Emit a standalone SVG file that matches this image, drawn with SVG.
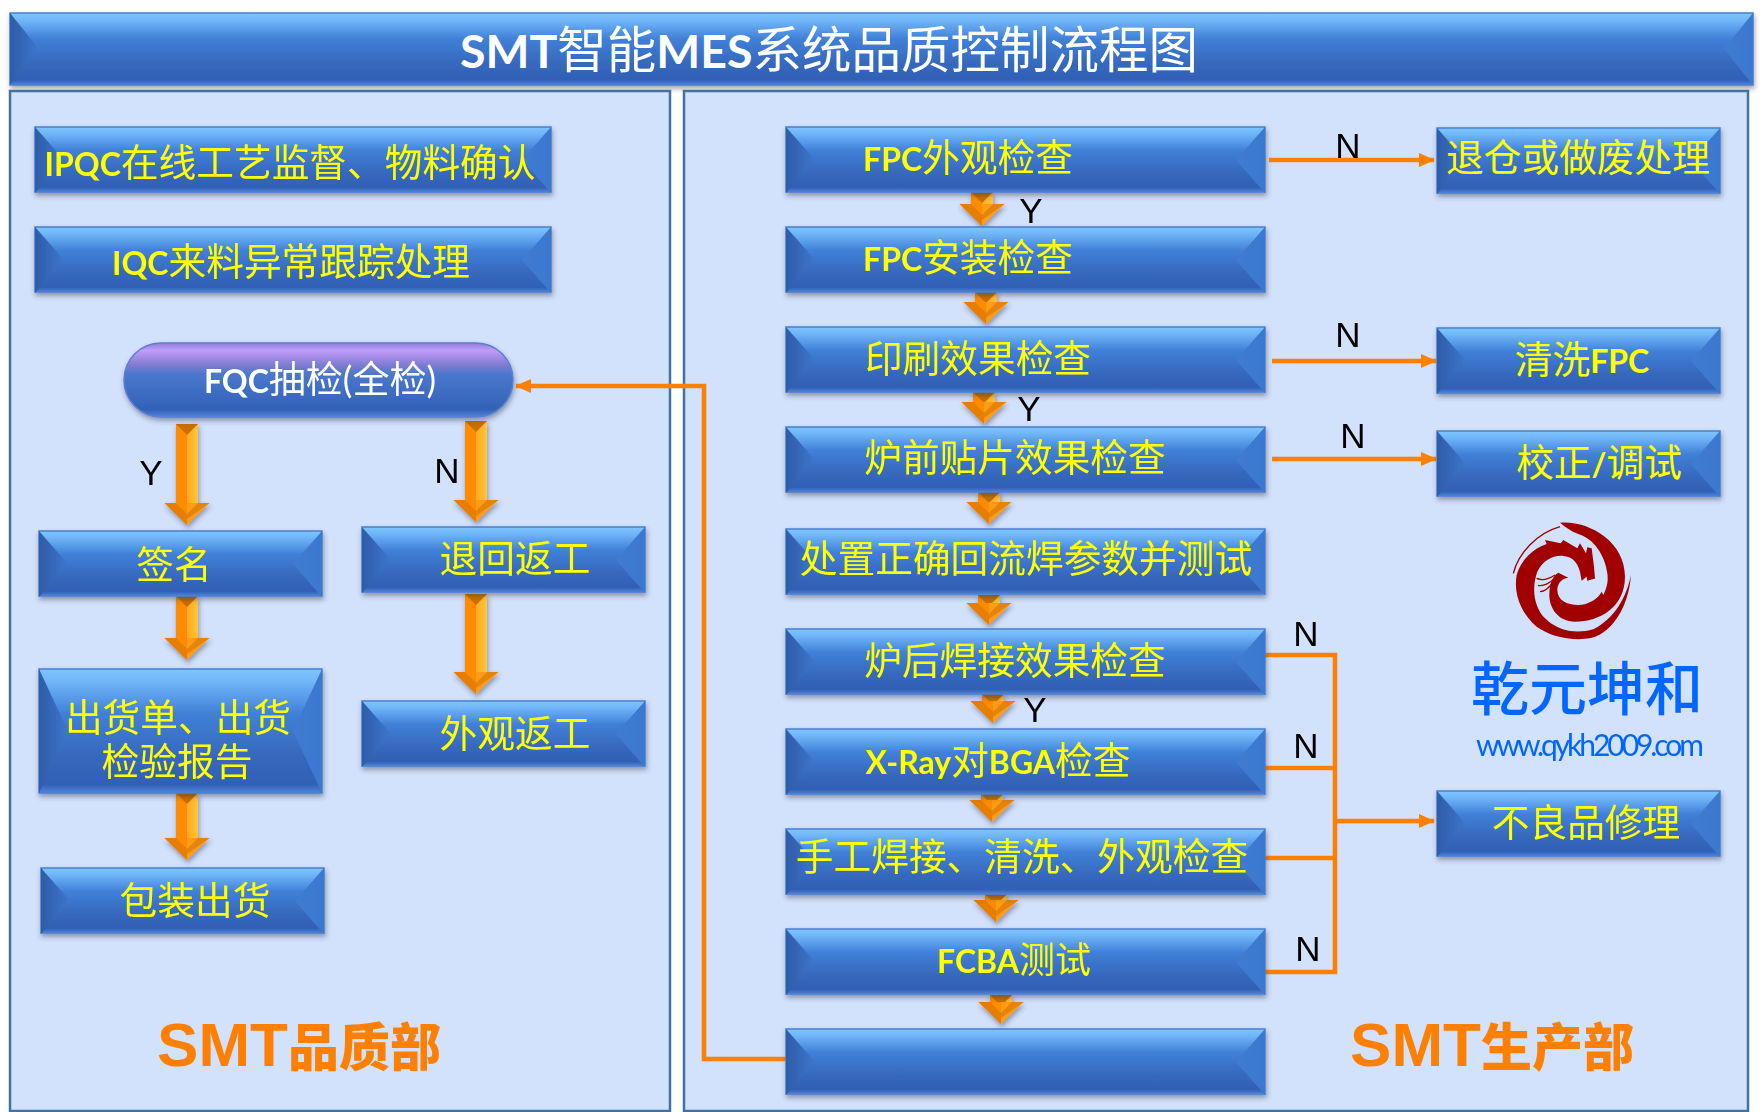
<svg xmlns="http://www.w3.org/2000/svg" width="1763" height="1112" viewBox="0 0 1763 1112">
<style>
text{font-family:"Noto Sans CJK SC","Noto Sans",sans-serif}
.t{fill:#ffff00;font-size:37.7px;text-anchor:middle}
.l{font-family:Lato,"Liberation Sans",sans-serif;font-weight:700;font-size:32px}
.w{fill:#fff}
.k{font-family:"Liberation Sans",sans-serif;font-size:35px;fill:#000;text-anchor:middle}
.p{fill:#d2e1fc;stroke:#44729f;stroke-width:2.5}
.b{fill:url(#gb);stroke:#4a80d0;stroke-width:1.5}
.s{filter:url(#sh)}
.c{fill:none;stroke:#ff8000;stroke-width:4.6}
.al{fill:#ff8c00}
.ar{fill:url(#gr)}
.big{fill:#ff8000;font-weight:900;font-size:51px;text-anchor:middle}
.lat{font-family:"Liberation Sans",sans-serif;font-weight:700;font-size:62px}
.d{fill:#a00000}
</style>
<defs>
<linearGradient id="gb" x1="0" y1="0" x2="0" y2="1"><stop offset="0" stop-color="#7cc6ff"/><stop offset=".1" stop-color="#70b6f8"/><stop offset=".36" stop-color="#4080d8"/><stop offset=".7" stop-color="#3669bd"/><stop offset=".93" stop-color="#3060b6"/><stop offset="1" stop-color="#4f85d8"/></linearGradient>
<linearGradient id="gp" x1="0" y1="0" x2="0" y2="1"><stop offset="0" stop-color="#8f7fd8"/><stop offset=".1" stop-color="#c29cfa"/><stop offset=".3" stop-color="#7d7bd0"/><stop offset=".42" stop-color="#4a78cc"/><stop offset=".9" stop-color="#3262b8"/><stop offset="1" stop-color="#4f85d8"/></linearGradient>
<linearGradient id="gl" x1="0" y1="0" x2="1" y2="0"><stop offset="0" stop-color="#2e5ca8"/><stop offset="1" stop-color="#3d76cc"/></linearGradient>
<linearGradient id="gs" x1="0" y1="0" x2="1" y2="0"><stop offset="0" stop-color="#417bd0"/><stop offset="1" stop-color="#3a78d0"/></linearGradient>
<linearGradient id="gr" x1="0" y1="0" x2="1" y2="0"><stop offset="0" stop-color="#ffa820"/><stop offset="1" stop-color="#ffc63c"/></linearGradient>
<filter id="sh" x="-5%" y="-10%" width="110%" height="130%"><feDropShadow dx="1" dy="3" stdDeviation="2.5" flood-color="#334" flood-opacity=".45"/></filter>
<marker id="m" markerUnits="userSpaceOnUse" markerWidth="16" markerHeight="16" refX="15" refY="8" orient="auto"><path d="M0,1L16,8L0,15Z" fill="#ff8000"/></marker>
<polygon id="bl" points="0,0 29,33 0,66" fill="url(#gl)"/>
<polygon id="br" points="0,0 -29,33 0,66" fill="url(#gs)"/>
<g id="cap"><polygon points="-11,0 11,0 0,11" fill="#c96f00"/></g>
<g id="hd"><polygon points="-22.5,-22 0,0 0,-22" fill="#ff8c00"/><polygon points="22.5,-22 0,0 0,-22" fill="#ff9c16"/><polygon points="-22.5,-22 -11,-22 0,-11 0,0" fill="#e07a00" opacity=".75"/><polygon points="22.5,-22 11,-22 0,-11 0,-6" fill="#d87a08" opacity=".7"/></g>
</defs>
<rect width="1763" height="1112" fill="#fff"/>
<g id="title" class="s"><rect class="b" x="10" y="13" width="1743" height="72"/><polygon points="10,13 39,49 10,85" fill="url(#gl)"/><polygon points="1753,13 1724,49 1753,85" fill="url(#gs)"/></g>
<text x="829" y="68" class="t w" style="font-size:49.5px"><tspan class="l" style="font-size:46.5px">SMT</tspan>智能<tspan class="l" style="font-size:46.5px">MES</tspan>系统品质控制流程图</text>
<rect id="panel-left" class="p" x="10" y="91" width="660" height="1020"/>
<rect id="panel-right" class="p" x="684" y="91" width="1064" height="1020"/>

<g id="connectors">
<path class="c" d="M1269,160H1434" marker-end="url(#m)"/>
<path class="c" d="M1272,361H1436" marker-end="url(#m)"/>
<path class="c" d="M1272,459H1436" marker-end="url(#m)"/>
<path class="c" d="M1265,655H1335V972H1265M1265,768H1335M1265,858H1335"/>
<path class="c" d="M1335,821H1434" marker-end="url(#m)"/>
<path class="c" d="M786,1059H704V386H516" marker-end="url(#m)"/>
<g class="s">
<g><rect class="al" x="176" y="424" width="11" height="80"/><rect class="ar" x="187" y="424" width="11" height="80"/><use href="#cap" x="187" y="424"/><use href="#hd" x="187" y="525"/></g>
<g><rect class="al" x="465" y="421" width="11" height="80"/><rect class="ar" x="476" y="421" width="11" height="80"/><use href="#cap" x="476" y="421"/><use href="#hd" x="476" y="522"/></g>
<g><rect class="al" x="176" y="596" width="11" height="44"/><rect class="ar" x="187" y="596" width="11" height="44"/><use href="#cap" x="187" y="596"/><use href="#hd" x="187" y="660"/></g>
<g><rect class="al" x="465" y="594" width="11" height="80"/><rect class="ar" x="476" y="594" width="11" height="80"/><use href="#cap" x="476" y="594"/><use href="#hd" x="476" y="694"/></g>
<g><rect class="al" x="176" y="793" width="11" height="46"/><rect class="ar" x="187" y="793" width="11" height="46"/><use href="#cap" x="187" y="793"/><use href="#hd" x="187" y="860"/></g>
<g><rect class="al" x="971" y="192" width="11" height="15"/><rect class="ar" x="982" y="192" width="11" height="15"/><use href="#cap" x="982" y="192"/><use href="#hd" x="982" y="226"/></g>
<g><rect class="al" x="975" y="292" width="11" height="13"/><rect class="ar" x="986" y="292" width="11" height="13"/><use href="#cap" x="986" y="292"/><use href="#hd" x="986" y="324"/></g>
<g><rect class="al" x="973" y="392" width="11" height="13"/><rect class="ar" x="984" y="392" width="11" height="13"/><use href="#cap" x="984" y="392"/><use href="#hd" x="984" y="424"/></g>
<g><rect class="al" x="978" y="492" width="11" height="13"/><rect class="ar" x="989" y="492" width="11" height="13"/><use href="#cap" x="989" y="492"/><use href="#hd" x="989" y="524"/></g>
<g><rect class="al" x="978" y="595" width="11" height="11"/><rect class="ar" x="989" y="595" width="11" height="11"/><use href="#cap" x="989" y="595"/><use href="#hd" x="989" y="625"/></g>
<g><rect class="al" x="982" y="694" width="11" height="10"/><rect class="ar" x="993" y="694" width="11" height="10"/><use href="#cap" x="993" y="694"/><use href="#hd" x="993" y="723"/></g>
<g><rect class="al" x="981" y="794" width="11" height="9"/><rect class="ar" x="992" y="794" width="11" height="9"/><use href="#cap" x="992" y="794"/><use href="#hd" x="992" y="822"/></g>
<g><rect class="al" x="985" y="894" width="11" height="9"/><rect class="ar" x="996" y="894" width="11" height="9"/><use href="#cap" x="996" y="894"/><use href="#hd" x="996" y="922"/></g>
<g><rect class="al" x="990" y="995" width="11" height="10"/><rect class="ar" x="1001" y="995" width="11" height="10"/><use href="#cap" x="1001" y="995"/><use href="#hd" x="1001" y="1024"/></g>
</g>
</g>

<g id="n-ipqc" class="s"><rect class="b" x="35" y="127" width="516" height="65"/><use href="#bl" x="35" y="127"/><use href="#br" x="551" y="127"/></g>
<text x="290" y="176" class="t"><tspan class="l">IPQC</tspan>在线工艺监督、物料确认</text>
<g id="n-iqc" class="s"><rect class="b" x="35" y="227" width="516" height="65"/><use href="#bl" x="35" y="227"/><use href="#br" x="551" y="227"/></g>
<text x="291" y="275" class="t"><tspan class="l">IQC</tspan>来料异常跟踪处理</text>
<g id="n-fqc" class="s"><rect x="124" y="343" width="389" height="74" rx="37" fill="url(#gp)" stroke="#5a7fd0" stroke-width="1.5"/></g>
<text x="320" y="393" class="t w" style="font-size:37px"><tspan class="l">FQC</tspan>抽检<tspan class="l" style="font-weight:400;font-size:36px">(</tspan>全检<tspan class="l" style="font-weight:400;font-size:36px">)</tspan></text>
<g id="n-sign" class="s"><rect class="b" x="39" y="531" width="283" height="65"/><use href="#bl" x="39" y="531"/><use href="#br" x="322" y="531"/></g>
<text x="174" y="578" class="t">签名</text>
<g id="n-return" class="s"><rect class="b" x="362" y="527" width="283" height="65"/><use href="#bl" x="362" y="527"/><use href="#br" x="645" y="527"/></g>
<text x="515" y="572" class="t">退回返工</text>
<g id="n-rework" class="s"><rect class="b" x="362" y="701" width="283" height="65"/><use href="#bl" x="362" y="701"/><use href="#br" x="645" y="701"/></g>
<text x="515" y="747" class="t">外观返工</text>
<g id="n-ship-doc" class="s"><rect class="b" x="39" y="669" width="283" height="124"/><polygon points="39,669 68,731 39,793" fill="url(#gl)"/><polygon points="322,669 293,731 322,793" fill="url(#gs)"/></g>
<text class="t"><tspan x="178" y="731">出货单、出货</tspan><tspan x="177" y="775">检验报告</tspan></text>
<g id="n-pack" class="s"><rect class="b" x="41" y="868" width="283" height="65"/><use href="#bl" x="41" y="868"/><use href="#br" x="324" y="868"/></g>
<text x="195" y="914" class="t">包装出货</text>

<g id="n-1" class="s"><rect class="b" x="786" y="127" width="479" height="65"/><use href="#bl" x="786" y="127"/><use href="#br" x="1265" y="127"/></g>
<text x="968" y="171" class="t"><tspan class="l">FPC</tspan>外观检查</text>
<g id="n-2" class="s"><rect class="b" x="786" y="227" width="479" height="65"/><use href="#bl" x="786" y="227"/><use href="#br" x="1265" y="227"/></g>
<text x="968" y="271" class="t"><tspan class="l">FPC</tspan>安装检查</text>
<g id="n-3" class="s"><rect class="b" x="786" y="327" width="479" height="65"/><use href="#bl" x="786" y="327"/><use href="#br" x="1265" y="327"/></g>
<text x="978" y="372" class="t">印刷效果检查</text>
<g id="n-4" class="s"><rect class="b" x="786" y="427" width="479" height="65"/><use href="#bl" x="786" y="427"/><use href="#br" x="1265" y="427"/></g>
<text x="1015" y="471" class="t">炉前贴片效果检查</text>
<g id="n-5" class="s"><rect class="b" x="786" y="529" width="479" height="65"/><use href="#bl" x="786" y="529"/><use href="#br" x="1265" y="529"/></g>
<text x="1026" y="572" class="t">处置正确回流焊参数并测试</text>
<g id="n-6" class="s"><rect class="b" x="786" y="629" width="479" height="65"/><use href="#bl" x="786" y="629"/><use href="#br" x="1265" y="629"/></g>
<text x="1015" y="674" class="t">炉后焊接效果检查</text>
<g id="n-7" class="s"><rect class="b" x="786" y="729" width="479" height="65"/><use href="#bl" x="786" y="729"/><use href="#br" x="1265" y="729"/></g>
<text x="998" y="774" class="t"><tspan class="l">X-Ray</tspan>对<tspan class="l">BGA</tspan>检查</text>
<g id="n-8" class="s"><rect class="b" x="786" y="829" width="479" height="65"/><use href="#bl" x="786" y="829"/><use href="#br" x="1265" y="829"/></g>
<text x="1022" y="870" class="t">手工焊接、清洗、外观检查</text>
<g id="n-9" class="s"><rect class="b" x="786" y="929" width="479" height="65"/><use href="#bl" x="786" y="929"/><use href="#br" x="1265" y="929"/></g>
<text x="1014" y="973" class="t" style="font-size:36px"><tspan class="l">FCBA</tspan>测试</text>
<g id="n-10" class="s"><rect class="b" x="786" y="1029" width="479" height="65"/><use href="#bl" x="786" y="1029"/><use href="#br" x="1265" y="1029"/></g>

<g id="n-scrap" class="s"><rect class="b" x="1437" y="128" width="283" height="65"/><use href="#bl" x="1437" y="128"/><use href="#br" x="1720" y="128"/></g>
<text x="1578" y="171" class="t">退仓或做废处理</text>
<g id="n-clean" class="s"><rect class="b" x="1437" y="328" width="283" height="65"/><use href="#bl" x="1437" y="328"/><use href="#br" x="1720" y="328"/></g>
<text x="1582" y="373" class="t">清洗<tspan class="l">FPC</tspan></text>
<g id="n-calib" class="s"><rect class="b" x="1437" y="431" width="283" height="65"/><use href="#bl" x="1437" y="431"/><use href="#br" x="1720" y="431"/></g>
<text x="1599" y="476" class="t">校正<tspan class="l">/</tspan>调试</text>
<g id="n-repair" class="s"><rect class="b" x="1437" y="791" width="283" height="65"/><use href="#bl" x="1437" y="791"/><use href="#br" x="1720" y="791"/></g>
<text x="1586" y="836" class="t">不良品修理</text>

<g id="labels">
<text class="k" x="1348" y="158">N</text>
<text class="k" x="1031" y="223">Y</text>
<text class="k" x="1348" y="347">N</text>
<text class="k" x="1029" y="421">Y</text>
<text class="k" x="1353" y="448">N</text>
<text class="k" x="1306" y="646">N</text>
<text class="k" x="1035" y="722">Y</text>
<text class="k" x="1306" y="758">N</text>
<text class="k" x="1308" y="961">N</text>
<text class="k" x="151" y="485">Y</text>
<text class="k" x="447" y="483">N</text>
</g>

<text x="299" y="1066" class="big"><tspan class="lat">SMT</tspan>品质部</text>
<text x="1492" y="1066" class="big"><tspan class="lat">SMT</tspan>生产部</text>

<g id="logo" transform="translate(1500 510) scale(.3333)">
<path class="d" d="M285,205L282,170L275,115L262,112L258,130L240,100L232,115L190,90L182,100L135,90L140,102C100,115 62,150 50,195C40,250 62,310 110,350C160,385 220,392 270,385C330,372 385,300 393,195C380,260 345,325 280,358C230,372 175,365 135,325C105,295 92,240 112,185C130,150 160,135 190,138C215,140 232,155 240,185L245,212L260,200L262,212L288,205Z"/>
<path class="d" d="M180,38C260,30 375,90 375,200C375,290 300,335 225,335C175,335 148,295 148,255C148,220 160,195 175,188L205,203C185,205 172,220 172,240C172,270 200,285 235,285C265,285 295,265 305,245L310,255C322,230 325,215 322,190C315,135 280,85 235,72C215,65 195,50 180,38Z"/>
<path d="M40,190C55,130 110,70 180,50M110,205C125,212 145,208 165,195M114,226C130,230 150,220 163,205M120,245C135,245 150,230 160,215" fill="none" stroke="#a00000" stroke-width="4"/>
</g>
<text x="1587" y="710" text-anchor="middle" style="font-size:58px;font-weight:500;fill:#0066ff">乾元坤和</text>
<text x="1476" y="756" textLength="228" lengthAdjust="spacing" style="font-family:Lato,sans-serif;font-size:30px;fill:#0066ff">www.qykh2009.com</text>
</svg>
